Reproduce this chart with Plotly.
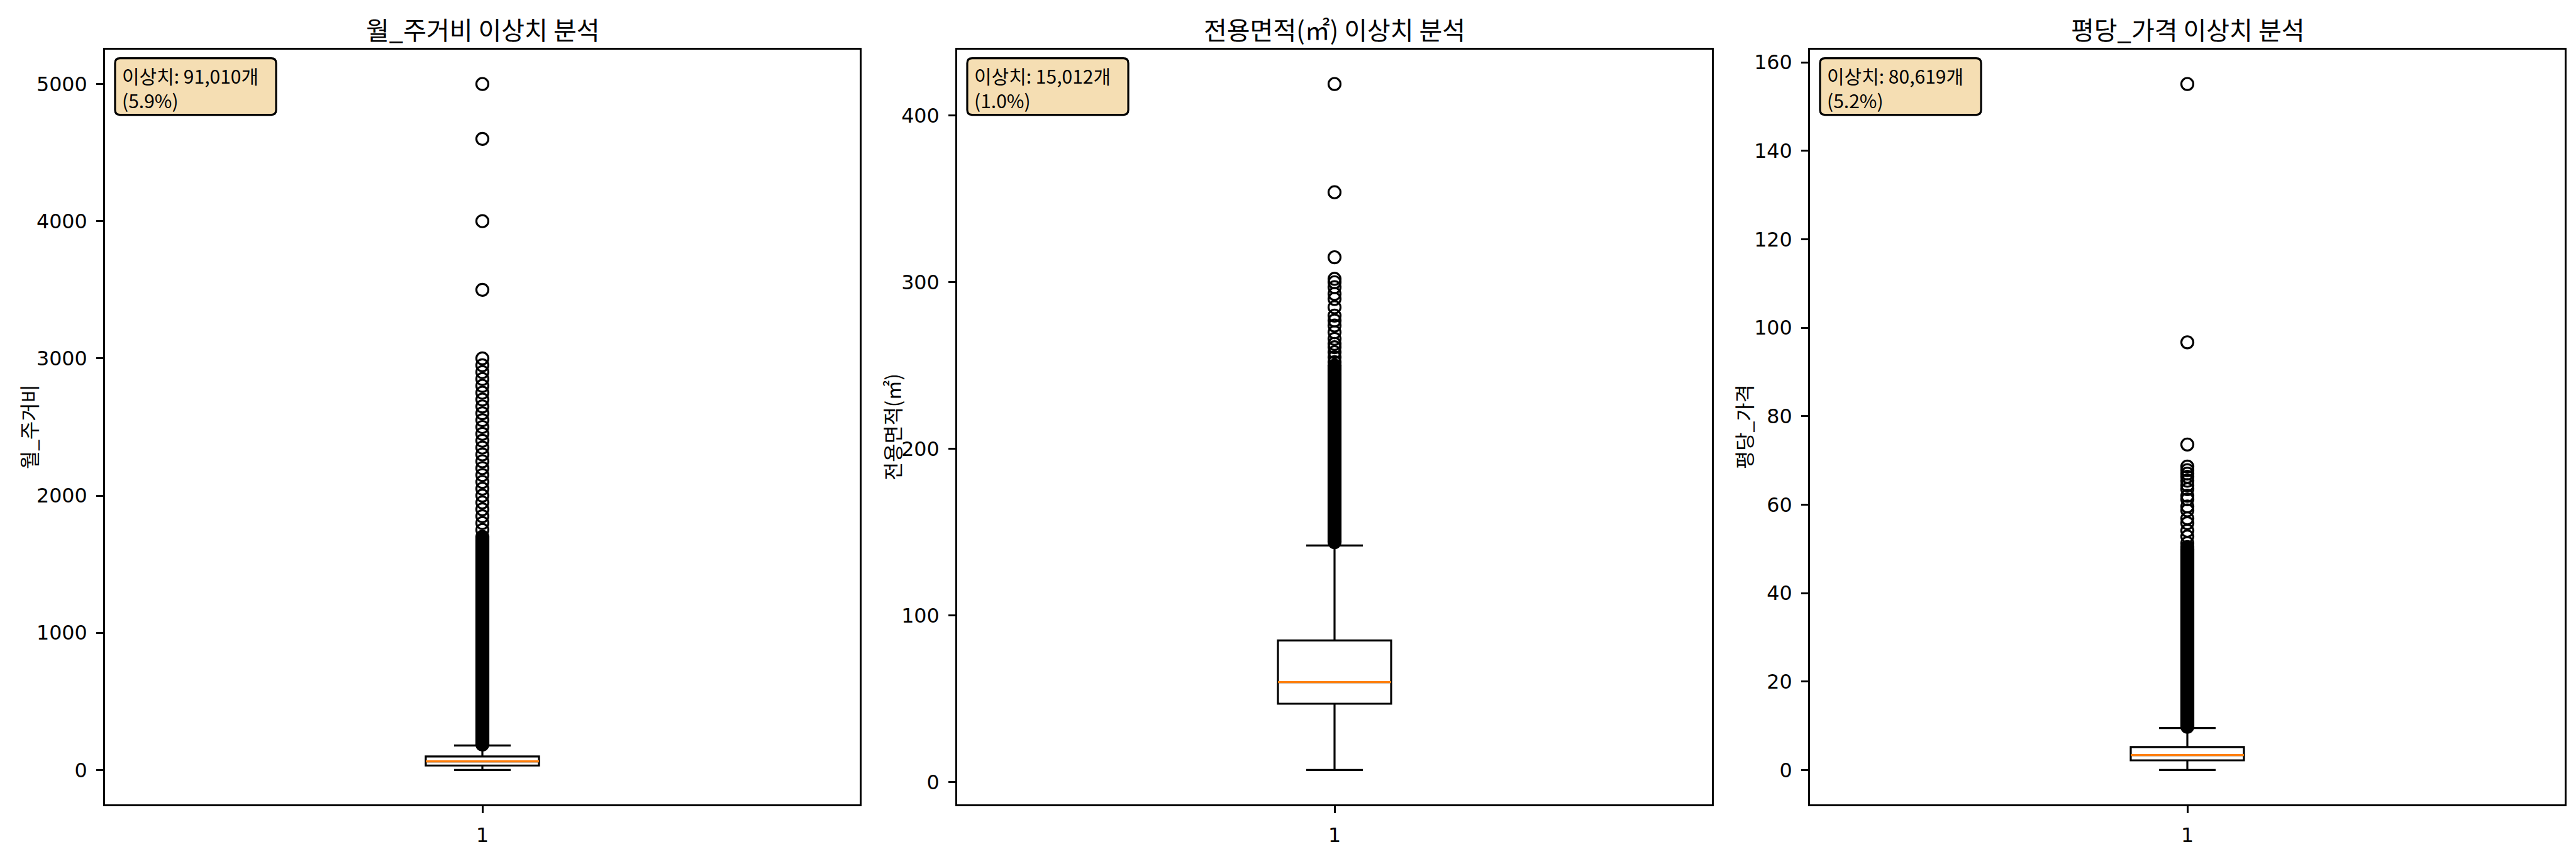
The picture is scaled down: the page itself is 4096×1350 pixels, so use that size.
import plotly.graph_objects as go

# ---------------- data ----------------
titles = ["월_주거비 이상치 분석", "전용면적(㎡) 이상치 분석", "평당_가격 이상치 분석"]
ylabels = ["월_주거비", "전용면적(㎡)", "평당_가격"]
x_tick_labels = ["1"]

q1_vals = [33, 47, 2.2]
median_vals = [63, 60, 3.4]
q3_vals = [99, 85, 5.2]
lower_whisker = [0, 7.2, 0]
upper_whisker = [179, 142, 9.5]

# dense (solid-looking) runs of overlapping outlier circles
dense_low = [186, 144, 9.8]
dense_high = [1700, 250, 50]

outliers_rent = [1750, 1800, 1850, 1900, 1950, 2000, 2050, 2100, 2150, 2200,
                 2250, 2300, 2350, 2400, 2450, 2500, 2550, 2600, 2650, 2700,
                 2750, 2800, 2850, 2900, 2950, 3000, 3500, 4000, 4600, 5000]
outliers_area = [252, 255, 258, 261, 263, 266, 270, 274, 277, 280, 285, 290,
                 293, 297, 300, 302, 315, 354, 419]
outliers_price = [50.4, 51.3, 52.8, 54.1, 55.8, 56.9, 58.7, 59.6, 61.2, 62.0,
                  63.5, 64.4, 65.4, 66.3, 67.0, 67.8, 68.6, 73.6, 96.7, 155.1]
outliers_all = [outliers_rent, outliers_area, outliers_price]

outlier_counts = ["91,010", "15,012", "80,619"]
outlier_pcts = ["5.9", "1.0", "5.2"]
y_dticks = [1000, 100, 20]

# ---------------- styling ----------------
S = 0.762
PT = 300 / 72 * S          # one matplotlib point in output px
W, H = 4096, 1350
KFONT = "Noto Sans CJK KR"
TFONT = "DejaVu Sans"

# panel geometry (output px)
panel_left = [159, 1514, 2870]
panel_w = 1200
panel_top, panel_bottom = 71, 1271

box_width = 0.15
mk = 6 * PT                 # flier marker size
lw = 1 * PT                 # line width
spine = 0.8 * PT

# info box geometry in axes-domain units
bx0, bx1, by0, by1, br = 0.0133, 0.2267, 0.9137, 0.9886, 0.0065

fig = go.Figure()
layout = dict(
    width=W, height=H, margin=dict(l=0, r=0, t=0, b=0),
    paper_bgcolor="white", plot_bgcolor="white", showlegend=False,
    annotations=[], shapes=[],
)

for i in range(3):
    sfx = "" if i == 0 else str(i + 1)
    xa, ya = "x" + sfx, "y" + sfx
    x0 = panel_left[i] / W
    x1 = (panel_left[i] + panel_w) / W
    y0 = 1 - panel_bottom / H
    y1 = 1 - panel_top / H

    lo = min(lower_whisker[i], min(outliers_all[i]))
    hi = max(upper_whisker[i], max(outliers_all[i]))
    pad = 0.05 * (hi - lo)

    common = dict(showline=True, linecolor="black", linewidth=spine, mirror=True,
                  showgrid=False, zeroline=False, ticks="outside",
                  ticklen=3.5 * PT, tickwidth=spine, tickcolor="black",
                  tickfont=dict(family=TFONT, size=10 * PT, color="black"),
                  ticklabelstandoff=int(round(2.5 * PT)))
    layout["xaxis" + sfx] = dict(common, domain=[x0, x1], anchor=ya,
                                 range=[0.5, 1.5], tickvals=[1],
                                 ticktext=x_tick_labels)
    layout["yaxis" + sfx] = dict(common, domain=[y0, y1], anchor=xa,
                                 range=[lo - pad, hi + pad], dtick=y_dticks[i],
                                 tick0=0)

    # box + whiskers + caps
    fig.add_trace(go.Box(
        x=[1], q1=[q1_vals[i]], median=[median_vals[i]], q3=[q3_vals[i]],
        lowerfence=[lower_whisker[i]], upperfence=[upper_whisker[i]],
        width=box_width, whiskerwidth=0.5, boxpoints=False,
        fillcolor="rgba(0,0,0,0)", line=dict(color="black", width=lw),
        xaxis=xa, yaxis=ya, hoverinfo="skip"))

    # median line (orange)
    fig.add_trace(go.Scatter(
        x=[1 - box_width / 2, 1 + box_width / 2],
        y=[median_vals[i], median_vals[i]], mode="lines",
        line=dict(color="#ff7f0e", width=lw), xaxis=xa, yaxis=ya,
        hoverinfo="skip"))

    # dense run of outliers (solid column)
    fig.add_trace(go.Scatter(
        x=[1, 1], y=[dense_low[i], dense_high[i]], mode="lines+markers",
        line=dict(color="black", width=mk + lw),
        marker=dict(symbol="circle", size=mk + lw, color="black",
                    line=dict(width=0)),
        xaxis=xa, yaxis=ya, hoverinfo="skip"))

    # individual outliers
    fig.add_trace(go.Scatter(
        x=[1] * len(outliers_all[i]), y=outliers_all[i], mode="markers",
        marker=dict(symbol="circle", size=mk, color="rgba(0,0,0,0)",
                    line=dict(color="black", width=lw)),
        xaxis=xa, yaxis=ya, hoverinfo="skip"))

    # subplot title
    layout["annotations"].append(dict(
        text=titles[i], xref="paper", yref="paper",
        x=(x0 + x1) / 2, y=1 - 38 / H, xanchor="center", yanchor="middle",
        showarrow=False, font=dict(family=KFONT, size=40, color="black")))

    # y-axis label
    ylab_x = [37, 1410, 2764][i]
    layout["annotations"].append(dict(
        text=ylabels[i], xref="paper", yref="paper", textangle=-90,
        x=ylab_x / W, y=(y0 + y1) / 2, xanchor="center", yanchor="middle",
        showarrow=False, font=dict(family=KFONT, size=10 * PT, color="black")))

    # outlier info box (rounded, wheat)
    path = (f"M {bx0 + br},{by1} L {bx1 - br},{by1} Q {bx1},{by1} {bx1},{by1 - br} "
            f"L {bx1},{by0 + br} Q {bx1},{by0} {bx1 - br},{by0} "
            f"L {bx0 + br},{by0} Q {bx0},{by0} {bx0},{by0 + br} "
            f"L {bx0},{by1 - br} Q {bx0},{by1} {bx0 + br},{by1} Z")
    layout["shapes"].append(dict(
        type="path", path=path, xref=xa + " domain", yref=ya + " domain",
        fillcolor="#f5deb3", line=dict(color="black", width=lw), layer="above"))
    layout["annotations"].append(dict(
        text=f"이상치: {outlier_counts[i]}개<br>({outlier_pcts[i]}%)",
        xref=xa + " domain", yref=ya + " domain",
        x=0.0215, y=0.985, xanchor="left", yanchor="top",
        align="left", showarrow=False, borderpad=0,
        font=dict(family=KFONT, size=30, color="black")))

fig.update_layout(**layout)
fig.write_html("out.html")
